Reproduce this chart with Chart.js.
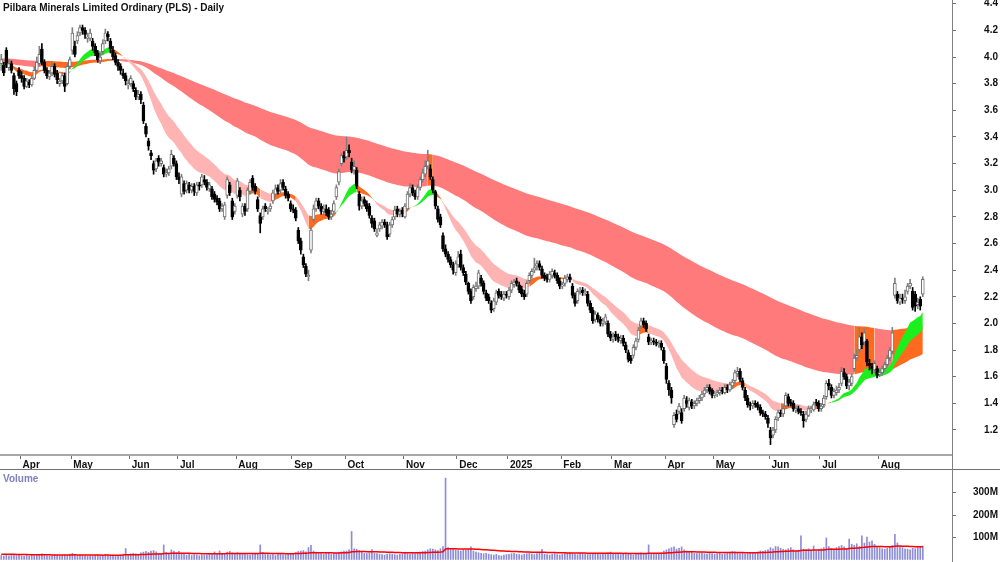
<!DOCTYPE html>
<html>
<head>
<meta charset="utf-8">
<script src="https://cdn.jsdelivr.net/npm/chart.js@4.4.1/dist/chart.umd.min.js"></script>
<style>
  body { margin: 0; background: #fff; width: 1000px; height: 562px; overflow: hidden; position: relative;
         font-family: "Liberation Sans", Arial, sans-serif; }
  #price { position: absolute; left: 0; top: 0; }
  #volume { position: absolute; left: 0; top: 470px; }
  .title { position: absolute; left: 3px; top: 2px; font-weight: bold; font-size: 10px; color: #111; }
  .vol-label { position: absolute; left: 3px; top: 473px; font-weight: bold; font-size: 10px; color: #8080c0; }
  .axis-v { position: absolute; left: 952px; top: 0; width: 1px; height: 562px; background: #808080; }
  .axis-h { position: absolute; left: 0; top: 469px; width: 1000px; height: 1px; background: #707070; }
</style>
</head>
<body>
<canvas id="price" width="1000" height="470"></canvas>
<canvas id="volume" width="1000" height="92"></canvas>
<div class="axis-h"></div>
<div class="axis-v"></div>
<div class="title">Pilbara Minerals Limited Ordinary (PLS) - Daily</div>
<div class="vol-label">Volume</div>
<script>
// Daily bars, Mar 2024 - Aug 2025 (one entry per trading day)
const opens = [
  3.95,3.94,4.05,3.92,3.95,3.86,3.80,3.90,3.86,3.84, 3.78,3.81,3.79,3.84,3.90,3.95,4.06,3.96,3.90,3.85,
  3.88,3.93,3.88,3.80,3.82,3.86,3.80,3.93,4.05,4.08, 4.12,4.18,4.22,4.20,4.14,4.14,4.12,4.08,4.03,3.97,
  4.04,4.12,4.17,4.12,4.05,4.01,3.96,3.93,3.88,3.86, 3.79,3.80,3.80,3.75,3.70,3.72,3.64,3.48,3.37,3.28,
  3.20,3.16,3.24,3.20,3.17,3.12,3.13,3.18,3.24,3.20, 3.10,2.97,3.05,3.00,3.04,3.00,3.03,2.98,3.04,3.04,
  3.08,3.06,3.01,3.01,2.97,2.94,2.92,2.86,2.80,2.96, 3.04,2.92,2.84,2.96,3.00,2.82,2.88,2.86,2.99,3.09,
  3.03,2.93,2.81,2.80,2.88,2.84,2.86,2.92,2.97,3.02, 3.00,3.06,3.01,2.97,2.90,2.86,2.85,2.70,2.62,2.50,
  2.43,2.35,2.55,2.78,2.86,2.92,2.88,2.84,2.86,2.85, 2.80,2.84,2.95,3.06,3.20,3.26,3.25,3.30,3.21,3.15,
  3.15,2.97,2.88,2.93,2.90,2.88,2.79,2.77,2.66,2.71, 2.73,2.76,2.74,2.67,2.74,2.80,2.86,2.82,2.85,2.80,
  2.86,2.97,3.02,2.98,2.95,3.02,3.08,3.12,3.18,3.16, 3.08,2.99,2.86,2.80,2.66,2.56,2.52,2.48,2.44,2.38,
  2.44,2.52,2.42,2.37,2.30,2.24,2.20,2.26,2.28,2.34, 2.30,2.23,2.20,2.15,2.11,2.16,2.24,2.22,2.19,2.22,
  2.20,2.25,2.29,2.32,2.29,2.26,2.23,2.22,2.32,2.36, 2.40,2.43,2.45,2.41,2.36,2.35,2.33,2.36,2.38,2.36,
  2.32,2.28,2.30,2.33,2.35,2.28,2.21,2.17,2.24,2.25, 2.23,2.22,2.15,2.10,2.03,2.06,2.03,2.00,2.01,2.00,
  1.92,1.88,1.92,1.90,1.87,1.89,1.84,1.78,1.74,1.76, 1.82,1.88,1.98,2.02,2.00,1.90,1.86,1.87,1.86,1.84,
  1.85,1.80,1.68,1.55,1.50,1.24,1.32,1.34,1.33,1.36, 1.42,1.37,1.41,1.38,1.40,1.42,1.44,1.47,1.50,1.52,
  1.50,1.46,1.47,1.48,1.50,1.48,1.52,1.50,1.53,1.57, 1.62,1.64,1.57,1.50,1.44,1.39,1.38,1.40,1.39,1.37,
  1.33,1.32,1.29,1.20,1.16,1.20,1.29,1.33,1.32,1.38, 1.45,1.41,1.40,1.35,1.36,1.34,1.32,1.28,1.31,1.35,
  1.35,1.41,1.40,1.36,1.39,1.45,1.55,1.52,1.46,1.48, 1.50,1.55,1.63,1.60,1.53,1.55,1.66,1.74,1.80,1.90,
  1.86,1.87,1.70,1.68,1.65,1.66,1.62,1.63,1.66,1.69, 1.74,1.79,2.21,2.22,2.16,2.19,2.17,2.24,2.28,2.24,
  2.22,2.14,2.18,2.22
];
const highs = [
  4.02,3.96,4.07,3.98,3.97,3.88,3.82,3.92,3.89,3.86, 3.84,3.83,3.86,3.93,4.00,4.08,4.10,3.98,3.92,3.90,
  3.96,3.95,3.90,3.84,3.88,3.88,3.95,4.00,4.22,4.12, 4.19,4.24,4.24,4.22,4.18,4.21,4.14,4.10,4.05,4.03,
  4.13,4.21,4.19,4.14,4.08,4.03,3.98,3.95,3.91,3.88, 3.83,3.86,3.82,3.77,3.75,3.74,3.66,3.50,3.39,3.30,
  3.22,3.24,3.26,3.24,3.19,3.16,3.18,3.30,3.26,3.22, 3.13,3.12,3.07,3.07,3.06,3.05,3.05,3.06,3.06,3.12,
  3.11,3.08,3.06,3.03,2.99,2.96,2.94,2.90,2.91,3.10, 3.06,2.94,2.90,3.09,3.02,2.90,2.90,3.02,3.08,3.11,
  3.05,2.95,2.83,2.88,2.90,2.87,2.90,3.00,3.04,3.04, 3.08,3.08,3.03,2.99,2.92,2.89,2.87,2.72,2.64,2.52,
  2.45,2.40,2.72,2.89,2.94,2.94,2.90,2.89,2.89,2.87, 2.85,2.92,3.04,3.16,3.28,3.29,3.40,3.34,3.24,3.22,
  3.17,2.99,2.95,2.95,2.92,2.90,2.81,2.79,2.71,2.76, 2.78,2.78,2.76,2.76,2.80,2.88,2.88,2.86,2.87,2.90,
  2.99,3.05,3.04,3.00,3.04,3.10,3.16,3.22,3.30,3.19, 3.10,3.00,2.88,2.82,2.68,2.59,2.54,2.50,2.46,2.47,
  2.54,2.55,2.44,2.39,2.31,2.26,2.29,2.31,2.40,2.36, 2.32,2.25,2.22,2.17,2.19,2.25,2.26,2.24,2.24,2.24,
  2.27,2.32,2.33,2.34,2.31,2.28,2.25,2.32,2.38,2.41, 2.49,2.47,2.47,2.43,2.38,2.37,2.39,2.41,2.40,2.38,
  2.34,2.31,2.36,2.37,2.37,2.30,2.23,2.26,2.27,2.27, 2.26,2.24,2.17,2.12,2.09,2.08,2.05,2.04,2.07,2.02,
  1.94,1.93,1.94,1.92,1.91,1.91,1.86,1.80,1.76,1.84, 1.89,1.97,2.04,2.04,2.02,1.92,1.89,1.89,1.88,1.87,
  1.87,1.82,1.70,1.57,1.52,1.33,1.35,1.40,1.36,1.46, 1.45,1.44,1.43,1.42,1.44,1.46,1.49,1.52,1.54,1.54,
  1.51,1.49,1.50,1.52,1.52,1.54,1.54,1.56,1.58,1.65, 1.67,1.66,1.59,1.52,1.46,1.41,1.42,1.42,1.41,1.39,
  1.35,1.34,1.31,1.22,1.22,1.30,1.35,1.35,1.38,1.48, 1.47,1.43,1.42,1.38,1.38,1.36,1.34,1.34,1.38,1.38,
  1.41,1.43,1.42,1.40,1.46,1.57,1.58,1.54,1.51,1.53, 1.55,1.67,1.66,1.62,1.58,1.62,1.77,1.80,1.97,1.93,
  1.96,1.88,1.73,1.70,1.72,1.68,1.66,1.68,1.71,1.76, 1.82,1.97,2.34,2.24,2.22,2.22,2.25,2.30,2.33,2.27,
  2.24,2.19,2.20,2.35
];
const lows = [
  3.90,3.86,3.92,3.90,3.88,3.72,3.71,3.84,3.81,3.76, 3.77,3.77,3.78,3.83,3.89,3.93,3.94,3.88,3.84,3.83,
  3.86,3.85,3.80,3.78,3.80,3.74,3.79,3.91,4.02,4.00, 4.10,4.16,4.17,4.14,4.11,4.12,4.05,4.01,3.96,3.95,
  4.02,4.10,4.12,4.03,3.98,3.94,3.90,3.87,3.84,3.79, 3.76,3.78,3.74,3.68,3.68,3.65,3.50,3.40,3.30,3.23,
  3.12,3.14,3.18,3.18,3.10,3.10,3.11,3.16,3.18,3.08, 3.05,2.95,2.97,2.98,2.98,2.98,2.96,2.96,3.00,3.02,
  3.04,3.00,2.99,2.93,2.91,2.89,2.84,2.84,2.78,2.94, 2.96,2.78,2.82,2.94,2.92,2.80,2.81,2.84,2.97,3.00,
  2.97,2.84,2.68,2.78,2.84,2.82,2.84,2.90,2.95,2.97, 2.98,3.00,2.94,2.92,2.84,2.83,2.77,2.60,2.52,2.42,
  2.35,2.32,2.53,2.76,2.84,2.86,2.82,2.82,2.81,2.78, 2.78,2.82,2.93,3.04,3.18,3.21,3.23,3.25,3.13,3.12,
  3.01,2.85,2.86,2.88,2.84,2.79,2.72,2.69,2.65,2.69, 2.71,2.72,2.63,2.65,2.72,2.78,2.80,2.80,2.80,2.79,
  2.85,2.95,2.96,2.93,2.93,3.00,3.06,3.10,3.16,3.08, 2.98,2.86,2.76,2.72,2.54,2.50,2.46,2.42,2.37,2.36,
  2.42,2.40,2.36,2.29,2.22,2.15,2.18,2.24,2.26,2.28, 2.22,2.17,2.15,2.08,2.09,2.14,2.19,2.18,2.17,2.19,
  2.18,2.23,2.27,2.28,2.23,2.20,2.18,2.20,2.30,2.34, 2.38,2.40,2.40,2.34,2.32,2.31,2.31,2.34,2.34,2.30,
  2.26,2.26,2.28,2.31,2.31,2.19,2.13,2.15,2.22,2.21, 2.21,2.13,2.08,2.00,2.01,2.01,1.98,1.98,1.99,1.90,
  1.87,1.86,1.87,1.86,1.85,1.83,1.78,1.71,1.70,1.74, 1.80,1.86,1.96,1.97,1.94,1.84,1.84,1.84,1.83,1.82,
  1.80,1.70,1.55,1.46,1.40,1.22,1.26,1.32,1.25,1.34, 1.37,1.35,1.36,1.36,1.38,1.40,1.42,1.45,1.48,1.47,
  1.44,1.44,1.45,1.46,1.47,1.47,1.48,1.49,1.51,1.55, 1.60,1.56,1.50,1.42,1.37,1.35,1.36,1.37,1.35,1.31,
  1.30,1.28,1.22,1.09,1.14,1.18,1.27,1.30,1.30,1.36, 1.38,1.38,1.34,1.33,1.32,1.31,1.22,1.26,1.30,1.33,
  1.34,1.38,1.34,1.34,1.37,1.43,1.50,1.44,1.44,1.46, 1.48,1.53,1.58,1.51,1.50,1.53,1.64,1.72,1.78,1.81,
  1.84,1.68,1.65,1.62,1.63,1.59,1.60,1.61,1.64,1.67, 1.72,1.77,2.19,2.15,2.14,2.15,2.15,2.22,2.26,2.10,
  2.09,2.11,2.10,2.20
];
const closes = [
  3.98,3.88,3.94,3.95,3.90,3.76,3.74,3.86,3.84,3.78, 3.82,3.79,3.84,3.90,3.96,4.02,3.96,3.90,3.86,3.88,
  3.93,3.87,3.83,3.82,3.86,3.78,3.93,3.98,4.18,4.02, 4.16,4.22,4.20,4.17,4.15,4.18,4.08,4.03,3.98,4.00,
  4.10,4.18,4.15,4.06,4.00,3.96,3.93,3.90,3.86,3.82, 3.80,3.84,3.76,3.70,3.72,3.68,3.52,3.42,3.33,3.26,
  3.15,3.22,3.21,3.22,3.12,3.13,3.16,3.27,3.20,3.10, 3.08,3.10,2.99,3.05,3.00,3.03,2.99,3.04,3.03,3.10,
  3.06,3.02,3.04,2.95,2.93,2.91,2.86,2.88,2.89,3.08, 2.98,2.80,2.88,3.07,2.95,2.88,2.84,3.00,3.06,3.02,
  2.99,2.86,2.75,2.86,2.86,2.85,2.88,2.98,3.01,2.99, 3.05,3.02,2.96,2.94,2.86,2.85,2.79,2.62,2.55,2.44,
  2.37,2.36,2.70,2.86,2.92,2.88,2.84,2.86,2.83,2.80, 2.82,2.90,3.02,3.14,3.26,3.24,3.30,3.28,3.15,3.18,
  3.03,2.88,2.92,2.90,2.86,2.81,2.75,2.71,2.68,2.74, 2.76,2.74,2.65,2.74,2.78,2.85,2.82,2.84,2.82,2.88,
  2.97,3.02,2.98,2.95,3.02,3.08,3.13,3.18,3.22,3.10, 3.00,2.88,2.78,2.74,2.56,2.52,2.48,2.44,2.40,2.45,
  2.50,2.42,2.38,2.31,2.24,2.17,2.27,2.28,2.38,2.30, 2.24,2.19,2.17,2.10,2.17,2.23,2.21,2.20,2.22,2.21,
  2.25,2.30,2.31,2.30,2.25,2.22,2.20,2.30,2.36,2.39, 2.42,2.45,2.42,2.36,2.34,2.33,2.37,2.39,2.36,2.32,
  2.28,2.29,2.34,2.35,2.33,2.21,2.15,2.24,2.25,2.23, 2.24,2.15,2.10,2.02,2.07,2.03,2.00,2.02,2.05,1.92,
  1.89,1.90,1.90,1.88,1.89,1.85,1.80,1.73,1.72,1.82, 1.87,1.95,2.02,1.99,1.96,1.86,1.87,1.86,1.85,1.85,
  1.82,1.72,1.58,1.50,1.44,1.31,1.28,1.38,1.27,1.44, 1.40,1.42,1.38,1.40,1.42,1.44,1.47,1.50,1.52,1.49,
  1.46,1.47,1.48,1.50,1.49,1.52,1.50,1.54,1.56,1.63, 1.64,1.58,1.52,1.44,1.39,1.38,1.40,1.39,1.37,1.33,
  1.32,1.30,1.25,1.14,1.20,1.28,1.33,1.32,1.36,1.46, 1.40,1.40,1.36,1.36,1.34,1.33,1.27,1.32,1.36,1.36,
  1.39,1.40,1.36,1.38,1.44,1.55,1.53,1.46,1.49,1.50, 1.52,1.64,1.60,1.53,1.56,1.60,1.74,1.76,1.90,1.84,
  1.93,1.71,1.68,1.66,1.70,1.61,1.63,1.66,1.69,1.74, 1.80,1.93,2.30,2.17,2.19,2.18,2.20,2.28,2.30,2.12,
  2.13,2.16,2.13,2.33
];
// volume in millions of shares
const volumes = [
  20,18,22,19,24,21,19,22,18,16, 20,17,22,19,21,24,27,20,18,17,
  19,22,20,18,21,23,20,26,30,24, 20,22,19,18,17,20,18,21,22,19,
  18,24,21,20,22,19,20,23,26,51, 24,27,30,28,26,32,35,38,34,40,
  42,36,30,28,67,34,30,45,40,33, 38,30,26,22,25,20,24,22,19,21,
  20,22,25,24,36,30,40,28,25,35, 38,32,30,33,30,26,25,24,22,28,
  30,26,67,34,28,25,22,24,20,26, 28,24,22,25,27,30,33,38,40,42,
  36,55,65,40,35,30,28,26,32,30, 25,28,30,34,36,40,40,45,127,50,
  48,42,35,30,28,32,46,30,28,26, 24,22,25,28,26,24,22,25,27,30,
  28,26,30,28,32,35,38,40,45,50, 48,45,42,50,60,364,55,52,48,45,
  42,40,45,44,48,58,40,35,32,30, 28,30,26,24,22,25,20,18,22,24,
  25,28,30,26,24,22,25,28,30,26, 24,28,30,47,26,24,22,25,28,24,
  22,26,28,30,32,28,26,24,28,30, 26,24,25,28,30,26,24,28,30,32,
  35,30,28,26,24,28,30,26,24,22, 28,30,32,28,26,67,30,28,26,30,
  32,40,45,50,55,58,48,52,58,45, 40,38,35,30,28,30,32,28,26,30,
  28,26,28,30,26,28,32,35,38,36, 30,28,30,26,28,30,32,34,36,40,
  38,42,45,55,50,60,58,52,48,45, 50,55,46,42,44,107,48,46,50,44,
  62,42,46,50,55,98,60,52,48,55, 60,65,58,50,93,70,65,72,60,107,
  75,102,80,85,70,60,55,50,48,52, 58,65,114,76,62,55,50,48,45,52,
  50,55,58,62
];

// month ticks: bar index where each month starts, and its label
const monthTicks = [8, 28, 51, 70, 93, 115, 136, 159, 180, 200, 221, 241, 262, 281, 303, 323, 346];
const monthNames = ["Apr", "May", "Jun", "Jul", "Aug", "Sep", "Oct", "Nov", "Dec", "2025",
                    "Feb", "Mar", "Apr", "May", "Jun", "Jul", "Aug"];

// moving average ribbons (exponential): periods, and the level read at the first bar
const shortPeriods = [17, 30];
const longPeriods = [100, 200];
const shortStart = [3.93, 3.95];
const longStart = [3.95, 3.99];
const volAvgPeriod = 50;
const volAvgStart = 26;

// ribbon colour changes, as [first bar, last bar]
const shortGreen = [[0, 1], [27, 43], [133, 140], [163, 171], [328, 363]];
const shortOrange = [[2, 26], [44, 49], [98, 102], [108, 116], [122, 132], [141, 147], [156, 162],
                     [172, 174], [209, 225], [252, 255], [288, 293], [308, 313], [320, 327]];
const longOrange = [[17, 44], [169, 170], [337, 344], [352, 363]];

const GREEN = "#1cf01c";
const ORANGE = "#ff6a1e";
const SHORT_DOWN = "#ffb4b4";
const LONG_DOWN = "#ff7b7b";

function ema(values, period, start) {
  const k = 2 / (period + 1);
  const out = [start];
  for (let i = 1; i < values.length; i++) {
    out.push(out[i - 1] + k * (values[i] - out[i - 1]));
  }
  return out;
}

const shortFast = ema(closes, shortPeriods[0], shortStart[0]);
const shortSlow = ema(closes, shortPeriods[1], shortStart[1]);
const longFast = ema(closes, longPeriods[0], longStart[0]);
const longSlow = ema(closes, longPeriods[1], longStart[1]);
const volAvg = ema(volumes, volAvgPeriod, volAvgStart);

const inRanges = (ranges, i) => ranges.some(([a, b]) => i >= a && i <= b);

// a few empty slots after the last bar, as in the original
const slots = closes.length + 11;
const labels = Array.from({ length: slots }, (_, i) => String(i));
const isUp = closes.map((c, i) => c >= opens[i]);

Chart.defaults.font.family = '"Liberation Sans", Arial, sans-serif';
Chart.defaults.animation = false;
Chart.defaults.plugins.legend.display = false;
Chart.defaults.plugins.tooltip.enabled = false;

const boldTicks = { size: 10, weight: "bold" };
const noPadding = s => { s.paddingTop = 0; s.paddingBottom = 0; s.paddingLeft = 0; s.paddingRight = 0; };

new Chart(document.getElementById("price"), {
  type: "bar",
  data: {
    labels: labels,
    datasets: [
      {
        data: opens.map((o, i) => [o, closes[i]]),
        backgroundColor: isUp.map(u => (u ? "#ffffff" : "#000000")),
        borderColor: isUp.map(u => (u ? "#707070" : "#000000")),
        borderWidth: 1,
        borderSkipped: false,
        barThickness: 3,
        minBarLength: 1,
        grouped: false,
        order: 0,
      },
      {
        data: lows.map((l, i) => [l, highs[i]]),
        backgroundColor: isUp.map(u => (u ? "#808080" : "#000000")),
        barThickness: 1,
        grouped: false,
        order: 1,
      },
      {
        type: "line",
        data: shortFast,
        borderWidth: 0,
        pointRadius: 0,
        backgroundColor: SHORT_DOWN,
        fill: "+1",
        segment: {
          backgroundColor: c => inRanges(shortGreen, c.p1DataIndex) ? GREEN
            : inRanges(shortOrange, c.p1DataIndex) ? ORANGE : SHORT_DOWN,
        },
        order: 2,
      },
      { type: "line", data: shortSlow, borderWidth: 0, pointRadius: 0, order: 2 },
      {
        type: "line",
        data: longFast,
        borderWidth: 0,
        pointRadius: 0,
        backgroundColor: LONG_DOWN,
        fill: "+1",
        segment: { backgroundColor: c => (inRanges(longOrange, c.p1DataIndex) ? ORANGE : LONG_DOWN) },
        order: 3,
      },
      { type: "line", data: longSlow, borderWidth: 0, pointRadius: 0, order: 3 },
    ],
  },
  options: {
    responsive: false,
    layout: { padding: { right: 2 } },
    scales: {
      x: {
        grid: {
          drawOnChartArea: false,
          tickLength: 4,
          color: c => (monthTicks.includes(c.index) ? "#707070" : "rgba(0,0,0,0)"),
        },
        border: { color: "#a8a8a8", width: 2 },
        ticks: {
          autoSkip: false,
          maxRotation: 0,
          align: "start",
          labelOffset: 1,
          padding: 0,
          color: "#111",
          font: boldTicks,
          callback: (v, i) => {
            const k = monthTicks.indexOf(i);
            return k < 0 ? "" : monthNames[k];
          },
        },
        afterFit: s => { s.height = 15; noPadding(s); },
      },
      y: {
        position: "right",
        min: 1.012,
        max: 4.428,
        grid: { drawOnChartArea: false, tickLength: 4, color: "#707070" },
        border: { display: false },
        ticks: {
          stepSize: 0.2,
          includeBounds: false,
          crossAlign: "far",
          color: "#111",
          font: boldTicks,
          callback: v => v.toFixed(1),
        },
        afterFit: s => { s.width = 46; noPadding(s); },
      },
    },
  },
});

new Chart(document.getElementById("volume"), {
  type: "bar",
  data: {
    labels: labels,
    datasets: [
      { type: "line", data: volAvg, borderColor: "#ff0000", borderWidth: 1.5, pointRadius: 0, order: 0 },
      { data: volumes, backgroundColor: "#8c8cd8", barThickness: 1, order: 1 },
    ],
  },
  options: {
    responsive: false,
    layout: { padding: { right: 2, bottom: 2 } },
    scales: {
      x: { display: false },
      y: {
        position: "right",
        min: 0,
        max: 400,
        grid: {
          drawOnChartArea: false,
          tickLength: 4,
          color: c => (c.tick && c.tick.value > 0 && c.tick.value < 400 ? "#707070" : "rgba(0,0,0,0)"),
        },
        border: { display: false },
        ticks: {
          stepSize: 100,
          crossAlign: "far",
          color: "#111",
          font: boldTicks,
          callback: v => (v > 0 && v < 400 ? v + "M" : ""),
        },
        afterFit: s => { s.width = 46; noPadding(s); },
      },
    },
  },
});
</script>
</body>
</html>
